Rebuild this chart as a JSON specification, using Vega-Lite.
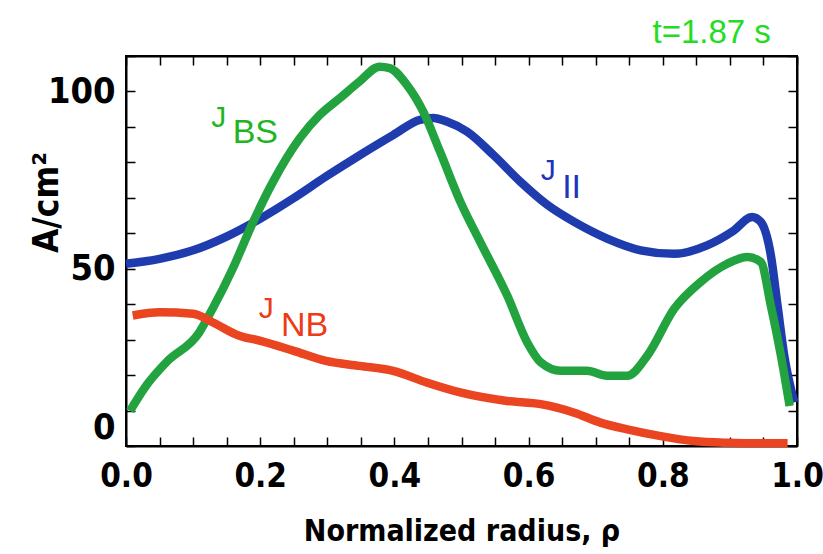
{
  "$schema": "https://vega.github.io/schema/vega-lite/v6.json",
  "width": 671,
  "height": 390,
  "autosize": {"type": "none"},
  "padding": {"left": 126, "top": 56, "right": 26, "bottom": 108},
  "background": "white",
  "config": {
    "view": {"stroke": "black", "strokeWidth": 2},
    "axis": {"grid": false, "domainColor": "black", "domainWidth": 2, "tickColor": "black", "tickWidth": 1.5,
      "labelFont": "'Liberation Sans Narrow', 'DejaVu Sans Condensed', 'Liberation Sans', sans-serif", "labelFontWeight": "bold", "labelFontSize": 36, "labelColor": "black",
      "titleFont": "'Liberation Sans Narrow', 'DejaVu Sans Condensed', 'Liberation Sans', sans-serif", "titleFontWeight": "bold", "titleFontSize": 30, "titleColor": "black"}
  },
  "datasets": {
    "curves": [
      {"rho": 0.0, "J": 51.4, "series": "par"},
      {"rho": 0.05, "J": 52.8, "series": "par"},
      {"rho": 0.1, "J": 55.2, "series": "par"},
      {"rho": 0.149, "J": 59, "series": "par"},
      {"rho": 0.199, "J": 64, "series": "par"},
      {"rho": 0.249, "J": 69.8, "series": "par"},
      {"rho": 0.298, "J": 76, "series": "par"},
      {"rho": 0.348, "J": 82, "series": "par"},
      {"rho": 0.398, "J": 87.7, "series": "par"},
      {"rho": 0.438, "J": 92, "series": "par"},
      {"rho": 0.458, "J": 92.5, "series": "par"},
      {"rho": 0.478, "J": 91.5, "series": "par"},
      {"rho": 0.508, "J": 88.7, "series": "par"},
      {"rho": 0.548, "J": 82, "series": "par"},
      {"rho": 0.588, "J": 74.5, "series": "par"},
      {"rho": 0.628, "J": 68, "series": "par"},
      {"rho": 0.668, "J": 63.2, "series": "par"},
      {"rho": 0.717, "J": 58.5, "series": "par"},
      {"rho": 0.767, "J": 55.2, "series": "par"},
      {"rho": 0.817, "J": 54.2, "series": "par"},
      {"rho": 0.866, "J": 56.6, "series": "par"},
      {"rho": 0.906, "J": 60.8, "series": "par"},
      {"rho": 0.933, "J": 64.6, "series": "par"},
      {"rho": 0.946, "J": 63.2, "series": "par"},
      {"rho": 0.961, "J": 53.8, "series": "par"},
      {"rho": 0.971, "J": 39.6, "series": "par"},
      {"rho": 0.981, "J": 25.5, "series": "par"},
      {"rho": 0.996, "J": 12.3, "series": "par"},

      {"rho": 0.006, "J": 9.9, "series": "bs"},
      {"rho": 0.03, "J": 17, "series": "bs"},
      {"rho": 0.06, "J": 23.6, "series": "bs"},
      {"rho": 0.109, "J": 32, "series": "bs"},
      {"rho": 0.129, "J": 38.7, "series": "bs"},
      {"rho": 0.159, "J": 50, "series": "bs"},
      {"rho": 0.189, "J": 63, "series": "bs"},
      {"rho": 0.219, "J": 74.5, "series": "bs"},
      {"rho": 0.259, "J": 86.8, "series": "bs"},
      {"rho": 0.289, "J": 93.4, "series": "bs"},
      {"rho": 0.318, "J": 98, "series": "bs"},
      {"rho": 0.348, "J": 102.8, "series": "bs"},
      {"rho": 0.378, "J": 107, "series": "bs"},
      {"rho": 0.393, "J": 106.6, "series": "bs"},
      {"rho": 0.418, "J": 102, "series": "bs"},
      {"rho": 0.443, "J": 94.3, "series": "bs"},
      {"rho": 0.468, "J": 83, "series": "bs"},
      {"rho": 0.498, "J": 69, "series": "bs"},
      {"rho": 0.528, "J": 57.5, "series": "bs"},
      {"rho": 0.568, "J": 42.5, "series": "bs"},
      {"rho": 0.598, "J": 29.2, "series": "bs"},
      {"rho": 0.618, "J": 23.6, "series": "bs"},
      {"rho": 0.648, "J": 21.2, "series": "bs"},
      {"rho": 0.687, "J": 21.2, "series": "bs"},
      {"rho": 0.717, "J": 19.8, "series": "bs"},
      {"rho": 0.747, "J": 19.8, "series": "bs"},
      {"rho": 0.777, "J": 25.5, "series": "bs"},
      {"rho": 0.817, "J": 38.7, "series": "bs"},
      {"rho": 0.856, "J": 46.2, "series": "bs"},
      {"rho": 0.896, "J": 51.4, "series": "bs"},
      {"rho": 0.926, "J": 53.3, "series": "bs"},
      {"rho": 0.946, "J": 51.9, "series": "bs"},
      {"rho": 0.961, "J": 39.6, "series": "bs"},
      {"rho": 0.976, "J": 25.5, "series": "bs"},
      {"rho": 0.989, "J": 11.3, "series": "bs"},

      {"rho": 0.01, "J": 36.8, "series": "nb"},
      {"rho": 0.05, "J": 37.7, "series": "nb"},
      {"rho": 0.1, "J": 37.3, "series": "nb"},
      {"rho": 0.129, "J": 34.9, "series": "nb"},
      {"rho": 0.169, "J": 31.1, "series": "nb"},
      {"rho": 0.199, "J": 29.7, "series": "nb"},
      {"rho": 0.249, "J": 26.9, "series": "nb"},
      {"rho": 0.298, "J": 24, "series": "nb"},
      {"rho": 0.348, "J": 22.6, "series": "nb"},
      {"rho": 0.398, "J": 21.2, "series": "nb"},
      {"rho": 0.448, "J": 17.9, "series": "nb"},
      {"rho": 0.498, "J": 15.1, "series": "nb"},
      {"rho": 0.568, "J": 12.7, "series": "nb"},
      {"rho": 0.618, "J": 11.8, "series": "nb"},
      {"rho": 0.668, "J": 9.4, "series": "nb"},
      {"rho": 0.707, "J": 6.6, "series": "nb"},
      {"rho": 0.747, "J": 4.7, "series": "nb"},
      {"rho": 0.797, "J": 2.8, "series": "nb"},
      {"rho": 0.846, "J": 1.4, "series": "nb"},
      {"rho": 0.896, "J": 0.9, "series": "nb"},
      {"rho": 0.946, "J": 0.75, "series": "nb"},
      {"rho": 0.986, "J": 0.75, "series": "nb"}
    ],
    "mainlabels": [
      {"rho": 0.127, "J": 90, "text": "J", "series": "bs"},
      {"rho": 0.198, "J": 36, "text": "J", "series": "nb"},
      {"rho": 0.618, "J": 75, "text": "J", "series": "par"}
    ],
    "sublabels": [
      {"rho": 0.159, "J": 85.5, "text": "BS", "series": "bs"},
      {"rho": 0.231, "J": 31.1, "text": "NB", "series": "nb"},
      {"rho": 0.650, "J": 69.9, "text": "II", "series": "par"}
    ],
    "timelabel": [
      {"rho": 0.961, "J": 113.8, "text": "t=1.87 s"}
    ]
  },
  "encoding": {
    "x": {"field": "rho", "type": "quantitative", "axis": null, "scale": {"domain": [0, 1], "nice": false, "zero": false}},
    "y": {"field": "J", "type": "quantitative", "axis": null, "scale": {"domain": [0, 110], "nice": false}}
  },
  "layer": [
    {
      "data": {"name": "curves"},
      "mark": {"type": "line", "strokeWidth": 8.5, "interpolate": "monotone", "strokeCap": "butt", "strokeJoin": "round"},
      "encoding": {
        "x": {"field": "rho", "type": "quantitative",
          "axis": {"orient": "bottom", "title": "Normalized radius, ρ", "labelFontSize": 33, "values": [0,0.05,0.1,0.15,0.2,0.25,0.3,0.35,0.4,0.45,0.5,0.55,0.6,0.65,0.7,0.75,0.8,0.85,0.9,0.95,1.0],
            "labelExpr": "abs(datum.value*5 - round(datum.value*5)) < 0.001 ? format(datum.value, '.1f') : ''",
            "tickSize": -9, "labelPadding": 23, "titleY": 94, "titleBaseline": "alphabetic", "labelFlush": false, "labelOverlap": false}},
        "y": {"field": "J", "type": "quantitative",
          "axis": {"orient": "left", "title": "A/cm²", "titleFontSize": 35, "values": [0,10,20,30,40,50,60,70,80,90,100,110],
            "labelExpr": "datum.value % 50 == 0 ? datum.label : ''",
            "tickSize": -9, "labelPadding": 20, "labelFlush": true, "titleX": -69, "titleY": 146, "titleAngle": 270, "titleBaseline": "alphabetic", "labelOverlap": false}},
        "color": {"field": "series", "type": "nominal", "legend": null,
          "scale": {"domain": ["par", "bs", "nb"], "range": ["#1f3caf", "#23a33f", "#ea4420"]}},
        "detail": {"field": "series"}
      }
    },
    {
      "data": {"name": "curves"},
      "mark": {"type": "line", "opacity": 0},
      "encoding": {
        "x": {"field": "rho", "type": "quantitative",
          "axis": {"orient": "top", "title": null, "labels": false, "values": [0,0.05,0.1,0.15,0.2,0.25,0.3,0.35,0.4,0.45,0.5,0.55,0.6,0.65,0.7,0.75,0.8,0.85,0.9,0.95,1.0], "tickSize": -9}},
        "y": {"field": "J", "type": "quantitative",
          "axis": {"orient": "right", "title": null, "labels": false, "values": [0,10,20,30,40,50,60,70,80,90,100,110], "tickSize": -9}},
        "detail": {"field": "series"}
      }
    },
    {
      "data": {"name": "mainlabels"},
      "mark": {"type": "text", "font": "Liberation Sans", "fontSize": 30, "align": "left", "baseline": "alphabetic"},
      "encoding": {
        "text": {"field": "text"},
        "color": {"field": "series", "type": "nominal", "legend": null,
          "scale": {"domain": ["par", "bs", "nb"], "range": ["#2233bb", "#22b522", "#ee3a16"]}}
      }
    },
    {
      "data": {"name": "sublabels"},
      "mark": {"type": "text", "font": "Liberation Sans", "fontSize": 34, "align": "left", "baseline": "alphabetic"},
      "encoding": {
        "text": {"field": "text"},
        "color": {"field": "series", "type": "nominal", "legend": null,
          "scale": {"domain": ["par", "bs", "nb"], "range": ["#2233bb", "#22b522", "#ee3a16"]}}
      }
    },
    {
      "data": {"name": "timelabel"},
      "mark": {"type": "text", "font": "Liberation Sans", "fontSize": 33, "align": "right", "baseline": "alphabetic", "color": "#22dd22", "clip": false},
      "encoding": {"text": {"field": "text"}}
    }
  ],
  "resolve": {"axis": {"x": "independent", "y": "independent"}, "scale": {"color": "independent"}}
}
